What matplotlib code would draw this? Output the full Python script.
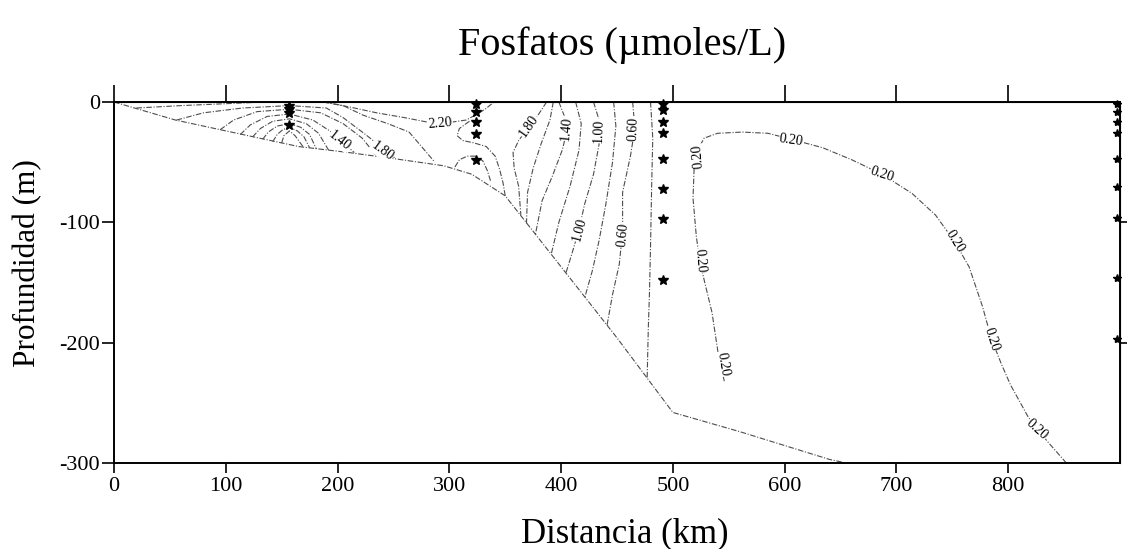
import numpy as np
import matplotlib
matplotlib.use('Agg')
import matplotlib.pyplot as plt

# --- basic settings ---
plt.rcParams['font.family'] = ['Liberation Serif', 'DejaVu Serif']
plt.rcParams['axes.unicode_minus'] = False

# --- data: (distance km, depth m) ---
bathymetry = [(0, 0), (55, 15), (115, 27), (165, 37), (210, 42), (250, 47), (295, 53),
              (320, 60), (350, 78), (450, 196), (500, 258), (560, 274), (640, 297), (655, 300)]

# nested isolines around station 1
iso_a060 = [(150, 34), (152, 28), (157, 24), (162, 28), (169, 37)]
iso_a080 = [(142, 33), (146, 27), (151, 23), (157, 21), (164, 24), (170, 29), (175, 38)]
iso_a100 = [(133, 31), (138, 25), (146, 20), (157, 18), (167, 21), (175, 27), (181, 39)]
iso_a120 = [(124, 29), (131, 22), (142, 16), (157, 14), (172, 18), (183, 26), (192, 40)]
iso_a140 = [(113, 27), (122, 19), (137, 12), (157, 10), (178, 15), (193, 24), (204, 33), (215, 42)]
iso_a160 = [(95, 23), (107, 15), (128, 8), (157, 6), (185, 9), (205, 18), (222, 30), (235, 45)]
iso_a180 = [(56, 15), (80, 9), (115, 5), (157, 3), (190, 5), (205, 13), (225, 27), (240, 38), (252, 47)]
iso_a200_left = [(20, 5), (60, 3), (110, 1), (135, 0)]
iso_a200_right = [(188, 0), (205, 3), (223, 11), (245, 18), (264, 25), (276, 38), (287, 50)]
iso_220 = [(187, 0), (210, 4), (235, 9), (260, 13), (282, 17), (300, 17), (315, 15),
           (323, 11), (332, 6), (340, 0)]

# around station 2
iso_s2a = [(318, 16), (309, 22), (307, 28), (312, 32), (322, 34), (333, 37), (341, 45),
           (345, 56), (348, 67), (350, 78)]
iso_s2b = [(305, 54), (309, 48), (316, 45), (324, 45), (330, 49), (334, 57), (337, 66)]

# slope isolines
iso_m180 = [(387, 0), (380, 10), (371, 21), (362, 32), (357, 42), (358, 55), (362, 70), (364, 94)]
iso_m160 = [(393, 0), (390, 15), (382, 35), (375, 55), (370, 75), (369, 101)]
iso_m140 = [(398, 0), (403, 12), (405, 25), (401, 40), (392, 62), (383, 82), (377, 110)]
iso_m120 = [(413, 0), (418, 18), (416, 40), (408, 70), (398, 100), (391, 127)]
iso_m100 = [(429, 0), (434, 15), (434, 35), (429, 60), (421, 85), (416, 106), (410, 125), (404, 143)]
iso_m080 = [(447, 0), (449, 20), (446, 50), (440, 85), (434, 115), (428, 140), (421, 163)]
iso_m060 = [(464, 0), (466, 22), (462, 45), (455, 75), (455, 108), (452, 135), (446, 160), (441, 186)]
iso_m040 = [(480, 0), (482, 30), (481, 70), (480, 120), (479, 160), (478, 188), (477, 229)]

# offshore 0.20 isoline
iso_020 = [(546, 232), (541, 212), (535, 175), (528, 148), (524, 132), (521, 112), (518, 80),
           (519, 55), (522, 40), (528, 30), (540, 26), (562, 25), (585, 26), (606, 31),
           (634, 38), (660, 48), (687, 60), (714, 76), (735, 94), (752, 116), (765, 137),
           (777, 170), (785, 197), (794, 218), (802, 235), (818, 262), (835, 282), (852, 300)]

# contour labels: text, km, depth, rotation
label_text = ['2.20', '1.40', '1.80', '1.80', '1.40', '1.00', '0.60', '1.00', '0.60',
              '0.20', '0.20', '0.20', '0.20', '0.20', '0.20', '0.20', '0.20']
label_km = [292, 202, 240, 371, 405, 434, 465, 416, 455,
            522, 524, 545, 606, 687, 752, 785, 826]
label_depth = [18, 32, 41, 20, 22, 24, 22, 106, 110,
               45, 132, 218, 32, 60, 116, 197, 272]
label_rot = [5, -38, -36, 55, 85, 88, 88, 75, 85,
             95, -85, -80, -8, -18, -58, -72, -42]

# sampling stations
station_km = [157, 324, 491, 897]
station_depths = [[3, 6, 9, 19],
                  [2, 8, 17, 27, 48],
                  [2, 7, 17, 26, 47, 72, 97, 148],
                  [2, 8, 17, 26, 47, 71, 96, 146, 197]]

x_ticks = [0, 100, 200, 300, 400, 500, 600, 700, 800]
y_ticks = [0, -100, -200, -300]

isolines = [iso_a060, iso_a080, iso_a100, iso_a120, iso_a140, iso_a160, iso_a180,
            iso_a200_left, iso_a200_right, iso_220, iso_s2a, iso_s2b,
            iso_m180, iso_m160, iso_m140, iso_m120, iso_m100, iso_m080, iso_m060, iso_m040,
            iso_020]

# --- figure ---
fig = plt.figure(figsize=(11.27, 5.49), dpi=100)
ax = fig.add_axes([114 / 1127, 1 - 463 / 549, 1006 / 1127, 361 / 549])

line_style = dict(color='0.3', lw=0.8, ls=(0, (5, 1.5, 1, 1.5)), zorder=2)

pts = np.array(bathymetry)
ax.plot(pts[:, 0], -pts[:, 1], **line_style)
for iso in isolines:
    pts = np.array(iso)
    ax.plot(pts[:, 0], -pts[:, 1], **line_style)

for s, x, d, r in zip(label_text, label_km, label_depth, label_rot):
    ax.text(x, -d, s, rotation=r, rotation_mode='anchor', ha='center', va='center',
            fontsize=10, zorder=3,
            bbox=dict(fc='white', ec='none', pad=0.3))

for i, (km, depths) in enumerate(zip(station_km, station_depths)):
    ms = 6 if i == 3 else 7
    ax.plot([km] * len(depths), -np.array(depths), '*', color='black', ms=ms,
            clip_on=False, zorder=5)

ax.set_xlim(0, 900)
ax.set_ylim(-300, 0)
ax.set_xticks(x_ticks)
ax.set_yticks(y_ticks)
ax.tick_params(axis='x', direction='out', length=7, width=1.2, labelsize=16, pad=3)
ax.tick_params(axis='y', direction='out', length=9, width=1.2, labelsize=16, pad=1)
for sp in ax.spines.values():
    sp.set_linewidth(1.4)

top = ax.secondary_xaxis('top')
top.set_xticks(x_ticks)
top.tick_params(direction='out', length=12, width=1.2, labeltop=False)

right = ax.secondary_yaxis('right')
right.set_yticks([-100, -200])
right.tick_params(direction='out', length=6, width=1.2, labelright=False)

fig.text(622 / 1127, 1 - 55 / 549, 'Fosfatos (µmoles/L)', ha='center', va='baseline',
         fontsize=29)
fig.text(625 / 1127, 1 - 542 / 549, 'Distancia (km)', ha='center', va='baseline',
         fontsize=25)
fig.text(28 / 1127, 1 - 263 / 549, 'Profundidad (m)', ha='center', va='center',
         rotation=90, fontsize=22.5)

fig.savefig('out.png', dpi=100)
